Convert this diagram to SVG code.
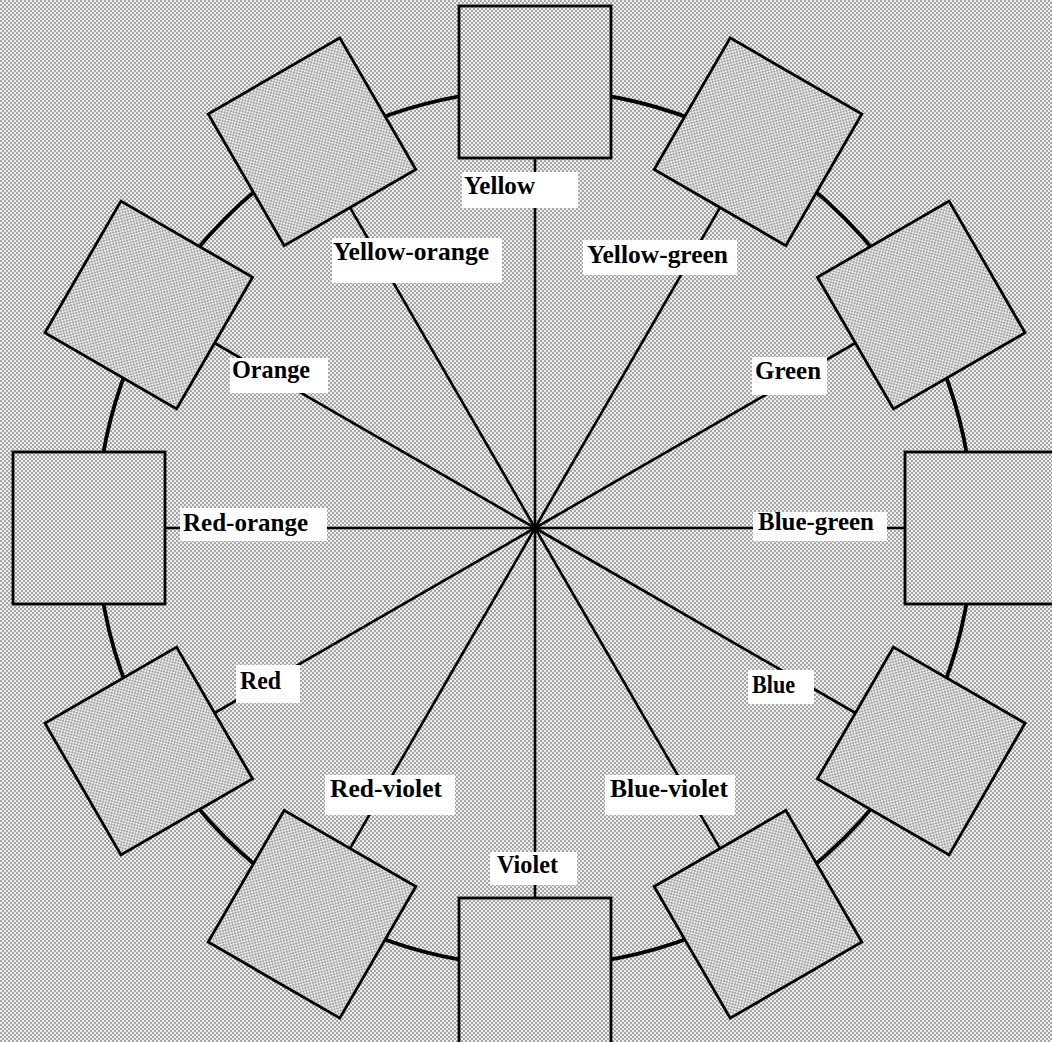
<svg xmlns="http://www.w3.org/2000/svg" width="1052" height="1042" viewBox="0 0 1052 1042">
<defs>
<pattern id="ht" width="4" height="4" patternUnits="userSpaceOnUse">
<rect width="4" height="4" fill="#ececec"/>
<rect x="0" y="0" width="2" height="2" fill="#a6a6a6"/>
<rect x="2" y="2" width="2" height="2" fill="#a6a6a6"/>
</pattern>
</defs>
<style>
.sq{fill:url(#ht);stroke:#000;stroke-width:2.8}
.sp{stroke:#000;stroke-width:2.6;fill:none}
.ring{stroke:#000;stroke-width:3.8;fill:none}
.lb{fill:#fff}
.tx{font-family:"Liberation Serif","Times New Roman",serif;font-weight:bold;font-size:26px;fill:#000}
</style>
<rect width="1052" height="1042" fill="url(#ht)"/>
<circle class="ring" cx="535" cy="528" r="438"/>
<g id="connectors">
<line class="sp" x1="0" y1="0" x2="0" y2="-371" transform="translate(535 528) rotate(0)"/>
<line class="sp" x1="0" y1="0" x2="0" y2="-371" transform="translate(535 528) rotate(30)"/>
<line class="sp" x1="0" y1="0" x2="0" y2="-371" transform="translate(535 528) rotate(60)"/>
<line class="sp" x1="0" y1="0" x2="0" y2="-371" transform="translate(535 528) rotate(90)"/>
<line class="sp" x1="0" y1="0" x2="0" y2="-371" transform="translate(535 528) rotate(120)"/>
<line class="sp" x1="0" y1="0" x2="0" y2="-371" transform="translate(535 528) rotate(150)"/>
<line class="sp" x1="0" y1="0" x2="0" y2="-371" transform="translate(535 528) rotate(180)"/>
<line class="sp" x1="0" y1="0" x2="0" y2="-371" transform="translate(535 528) rotate(210)"/>
<line class="sp" x1="0" y1="0" x2="0" y2="-371" transform="translate(535 528) rotate(240)"/>
<line class="sp" x1="0" y1="0" x2="0" y2="-371" transform="translate(535 528) rotate(270)"/>
<line class="sp" x1="0" y1="0" x2="0" y2="-371" transform="translate(535 528) rotate(300)"/>
<line class="sp" x1="0" y1="0" x2="0" y2="-371" transform="translate(535 528) rotate(330)"/>
</g>
<g id="yellow">
<rect class="sq" x="-76" y="-76" width="152" height="152" transform="translate(535 528) rotate(0) translate(0 -446)"/>
<rect class="lb" x="462" y="172" width="116" height="36"/>
<text class="tx" x="464" y="194" textLength="71" lengthAdjust="spacingAndGlyphs">Yellow</text>
</g>
<g id="yellow-green">
<rect class="sq" x="-76" y="-76" width="152" height="152" transform="translate(535 528) rotate(30) translate(0 -446)"/>
<rect class="lb" x="583" y="240" width="154" height="35"/>
<text class="tx" x="587" y="263" textLength="141" lengthAdjust="spacingAndGlyphs">Yellow-green</text>
</g>
<g id="green">
<rect class="sq" x="-76" y="-76" width="152" height="152" transform="translate(535 528) rotate(60) translate(0 -446)"/>
<rect class="lb" x="752" y="357" width="75" height="38"/>
<text class="tx" x="755" y="379" textLength="66" lengthAdjust="spacingAndGlyphs">Green</text>
</g>
<g id="blue-green">
<rect class="sq" x="-76" y="-76" width="152" height="152" transform="translate(535 528) rotate(90) translate(0 -446)"/>
<rect class="lb" x="753" y="512" width="134" height="29"/>
<text class="tx" x="758" y="530" textLength="116" lengthAdjust="spacingAndGlyphs">Blue-green</text>
</g>
<g id="blue">
<rect class="sq" x="-76" y="-76" width="152" height="152" transform="translate(535 528) rotate(120) translate(0 -446)"/>
<rect class="lb" x="748" y="670" width="66" height="34"/>
<text class="tx" x="752" y="693" textLength="43" lengthAdjust="spacingAndGlyphs">Blue</text>
</g>
<g id="blue-violet">
<rect class="sq" x="-76" y="-76" width="152" height="152" transform="translate(535 528) rotate(150) translate(0 -446)"/>
<rect class="lb" x="605" y="775" width="130" height="40"/>
<text class="tx" x="610" y="797" textLength="118" lengthAdjust="spacingAndGlyphs">Blue-violet</text>
</g>
<g id="violet">
<rect class="sq" x="-76" y="-76" width="152" height="152" transform="translate(535 528) rotate(180) translate(0 -446)"/>
<rect class="lb" x="490" y="852" width="87" height="33"/>
<text class="tx" x="497" y="873" textLength="61" lengthAdjust="spacingAndGlyphs">Violet</text>
</g>
<g id="red-violet">
<rect class="sq" x="-76" y="-76" width="152" height="152" transform="translate(535 528) rotate(210) translate(0 -446)"/>
<rect class="lb" x="325" y="775" width="130" height="40"/>
<text class="tx" x="330" y="797" textLength="112" lengthAdjust="spacingAndGlyphs">Red-violet</text>
</g>
<g id="red">
<rect class="sq" x="-76" y="-76" width="152" height="152" transform="translate(535 528) rotate(240) translate(0 -446)"/>
<rect class="lb" x="236" y="665" width="64" height="38"/>
<text class="tx" x="240" y="689" textLength="41" lengthAdjust="spacingAndGlyphs">Red</text>
</g>
<g id="red-orange">
<rect class="sq" x="-76" y="-76" width="152" height="152" transform="translate(535 528) rotate(270) translate(0 -446)"/>
<rect class="lb" x="180" y="508" width="147" height="33"/>
<text class="tx" x="183" y="531" textLength="125" lengthAdjust="spacingAndGlyphs">Red-orange</text>
</g>
<g id="orange">
<rect class="sq" x="-76" y="-76" width="152" height="152" transform="translate(535 528) rotate(300) translate(0 -446)"/>
<rect class="lb" x="230" y="358" width="98" height="35"/>
<text class="tx" x="232" y="378" textLength="78" lengthAdjust="spacingAndGlyphs">Orange</text>
</g>
<g id="yellow-orange">
<rect class="sq" x="-76" y="-76" width="152" height="152" transform="translate(535 528) rotate(330) translate(0 -446)"/>
<rect class="lb" x="332" y="238" width="170" height="45"/>
<text class="tx" x="333" y="260" textLength="156" lengthAdjust="spacingAndGlyphs">Yellow-orange</text>
</g>
</svg>
